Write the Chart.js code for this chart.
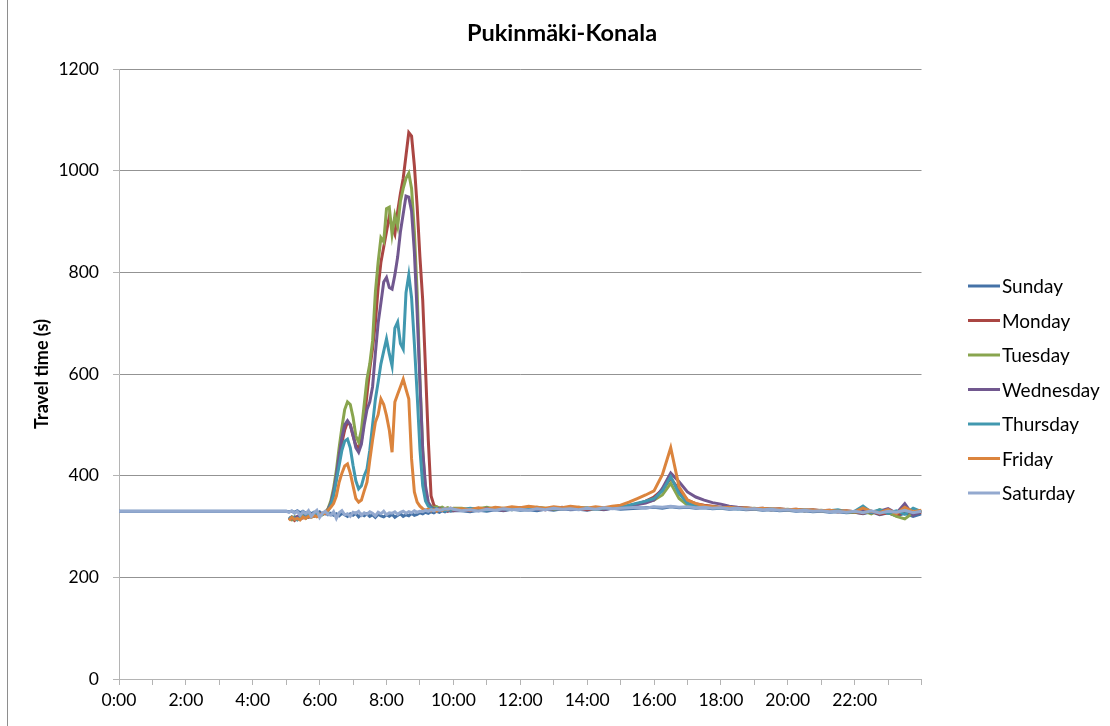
<!DOCTYPE html>
<html>
<head>
<meta charset="utf-8">
<title>Pukinmäki-Konala</title>
<script src="https://cdn.jsdelivr.net/npm/chart.js@4.4.1/dist/chart.umd.min.js"></script>
<style>
  html, body { margin: 0; padding: 0; background: #fff; }
  #wrap { width: 1110px; height: 726px; position: relative; }
</style>
</head>
<body>
<div id="wrap"><canvas id="chart"></canvas></div>
<script>

const chartTitle = 'Pukinmäki-Konala';
const yTitle = 'Travel time (s)';
const dayNames = ['Sunday', 'Monday', 'Tuesday', 'Wednesday', 'Thursday', 'Friday', 'Saturday'];
const dayColors = ['#4572A7', '#AA4643', '#89A54E', '#71588F', '#4198AF', '#DB843D', '#93A9CF'];
const tickLabels = ['0:00', '2:00', '4:00', '6:00', '8:00', '10:00', '12:00', '14:00', '16:00', '18:00', '20:00', '22:00'];

// sample times in minutes: 0:00, then every 5 min 5:00-10:00, then every 15 min 10:15-24:00
const minutes = [0];
for (let m = 300; m <= 600; m += 5) minutes.push(m);
for (let m = 615; m <= 1440; m += 15) minutes.push(m);

const sunday = [
  330,
  330, 329, 330, 328, 331, 327, 330, 326, 329, 325, 328, 326,   // 5:00
  329, 324, 327, 323, 326, 322, 325, 321, 326, 323, 320, 325,   // 6:00
  322, 326, 319, 324, 321, 325, 320, 323, 318, 324, 321, 319,   // 7:00
  323, 320, 324, 318, 322, 325, 320, 323, 321, 326, 322, 324,   // 8:00
  327, 325, 328, 326, 329, 327, 330, 328, 331, 329, 332, 330,   // 9:00
  331,
  331, 329, 332, 330, 333, 331, 334, 332, 333, 331, 334, 332,   // 10:15-13:00
  335, 333, 334, 332, 335, 333, 336, 334, 335, 336, 337, 338,   // 13:15-16:00
  336, 339, 337, 338, 336, 337, 335, 336, 334, 335, 333, 334,   // 16:15-19:00
  332, 333, 331, 332, 330, 331, 329, 330, 328, 329, 327, 328,   // 19:15-22:00
  325, 329, 323, 327, 321, 326, 320, 325                        // 22:15-24:00
];

const monday = [
  null,
  null, 314, 318, 312, 316, 320, 317, 321, 319, 323, 320, 324,
  322, 326, 328, 333, 345, 365, 395, 430, 465, 490, 505, 500,
  478, 460, 455, 470, 510, 560, 610, 650, 700, 770, 820, 850,
  880, 910, 890, 875, 920, 955, 985, 1030, 1075, 1068, 1010, 930,
  830, 745, 610, 470, 360, 342, 338, 335, 332, 334, 330, 333,
  331,
  334, 331, 336, 333, 335, 332, 336, 334, 337, 335, 333, 336,
  334, 337, 335, 333, 336, 334, 337, 338, 340, 344, 350, 358,
  372, 395, 372, 352, 345, 342, 340, 338, 336, 337, 335, 334,
  335, 333, 334, 332, 333, 331, 332, 330, 331, 329, 330, 328,
  326, 330, 324, 327, 322, 329, 325, 328
];

const tuesday = [
  null,
  null, 316, 313, 319, 315, 318, 322, 316, 320, 318, 324, 321,
  325, 323, 327, 335, 350, 375, 410, 455, 495, 530, 545, 540,
  515, 478, 466, 490, 540, 590, 620, 665, 760, 820, 868, 860,
  925, 928, 875, 912, 890, 940, 965, 985, 995, 965, 880, 760,
  590, 450, 368, 345, 340, 337, 339, 336, 338, 335, 337, 334,
  336,
  336, 333, 335, 338, 334, 336, 333, 337, 335, 338, 336, 334,
  337, 335, 338, 336, 334, 337, 336, 339, 341, 345, 348, 352,
  362, 385, 355, 342, 340, 338, 339, 337, 338, 336, 335, 336,
  334, 335, 333, 334, 332, 333, 331, 332, 330, 331, 329, 328,
  331, 325, 333, 328, 320, 315, 327, 330
];

const wednesday = [
  null,
  null, 318, 315, 317, 320, 314, 319, 322, 318, 321, 323, 320,
  324, 326, 325, 333, 345, 368, 400, 440, 475, 500, 508, 500,
  480, 455, 446, 462, 500, 530, 545, 575, 640, 700, 740, 781,
  790, 770, 767, 795, 830, 880, 915, 950, 948, 920, 840, 720,
  584, 450, 380, 348, 338, 335, 333, 336, 332, 334, 331, 333,
  332,
  332, 335, 333, 336, 334, 332, 335, 337, 334, 336, 333, 335,
  338, 334, 336, 335, 337, 334, 336, 338, 340, 343, 346, 352,
  375, 405, 388, 368, 358, 352, 347, 344, 340, 338, 337, 335,
  336, 334, 335, 333, 334, 332, 333, 331, 332, 330, 331, 329,
  333, 327, 330, 335, 326, 345, 322, 331
];

const thursday = [
  null,
  null, 315, 319, 316, 313, 318, 321, 317, 322, 319, 321, 325,
  322, 324, 327, 330, 342, 360, 390, 420, 450, 468, 472, 455,
  420, 390, 374, 380, 400, 413, 450, 500, 550, 584, 620, 645,
  669, 640, 616, 690, 702, 660, 649, 760, 795, 750, 660, 560,
  452, 380, 350, 340, 336, 333, 335, 332, 334, 331, 333, 332,
  334,
  333, 336, 334, 332, 337, 335, 333, 336, 334, 337, 335, 336,
  334, 338, 335, 337, 334, 336, 338, 337, 342, 346, 350, 355,
  370, 398, 365, 346, 340, 338, 337, 336, 338, 335, 336, 334,
  335, 333, 334, 332, 333, 331, 332, 330, 331, 333, 329, 330,
  340, 328, 333, 326, 331, 324, 336, 329
];

const friday = [
  null,
  null, 312, 318, 314, 316, 313, 319, 316, 320, 318, 322, 319,
  323, 325, 326, 332, 338, 345, 360, 387, 405, 419, 423, 405,
  380, 355, 348, 352, 370, 387, 430, 470, 505, 520, 551, 540,
  518, 490, 446, 545, 560, 575, 590, 570, 551, 433, 368, 348,
  340, 335, 332, 334, 331, 333, 330, 334, 332, 335, 333, 336,
  334,
  335, 333, 337, 334, 338, 336, 339, 337, 340, 338, 336, 339,
  337, 340, 338, 336, 339, 337, 340, 342, 348, 355, 362, 370,
  402, 455, 378, 352, 345, 341, 339, 337, 338, 336, 337, 335,
  336, 334, 335, 333, 334, 332, 333, 331, 332, 330, 331, 329,
  336, 330, 327, 333, 325, 338, 329, 332
];

const saturday = [
  330,
  330, 328, 331, 326, 330, 322, 329, 325, 331, 320, 327, 332,
  318, 326, 330, 324, 322, 329, 316, 327, 331, 323, 325, 320,
  328, 326, 330, 322, 327, 324, 329, 326, 321, 328, 325, 330,
  323, 327, 326, 329, 324, 328, 330, 326, 329, 327, 331, 328,
  330, 329, 332, 330, 333, 331, 334, 332, 333, 335, 334, 336,
  334,
  331, 333, 330, 334, 332, 335, 333, 334, 332, 335, 333, 336,
  334, 335, 333, 336, 334, 337, 335, 336, 337, 338, 336, 339,
  338, 340, 338, 339, 337, 338, 336, 337, 335, 336, 334, 335,
  333, 334, 332, 333, 331, 332, 330, 331, 329, 330, 328, 330,
  327, 331, 326, 330, 328, 332, 327, 330
];

const allDays = [sunday, monday, tuesday, wednesday, thursday, friday, saturday];

const axisGrey = '#b4b4b4';
const gridGrey = '#939393';

// title, legend and the frame line on the left
const decor = {
  id: 'decor',
  beforeDraw(chart) {
    const ctx = chart.ctx;
    ctx.save();
    ctx.strokeStyle = '#8e8e8e';
    ctx.lineWidth = 1;
    ctx.beginPath();
    ctx.moveTo(7.5, 0);
    ctx.lineTo(7.5, chart.height);
    ctx.stroke();
    ctx.restore();
  },
  afterDraw(chart) {
    const ctx = chart.ctx;
    ctx.save();
    ctx.fillStyle = '#000';
    ctx.font = 'bold 23.5px Lato';
    ctx.textAlign = 'center';
    ctx.textBaseline = 'middle';
    ctx.fillText(chartTitle, 562, 33);

    ctx.font = '19px Lato';
    ctx.textAlign = 'left';
    chart.data.datasets.forEach((ds, i) => {
      const y = 286 + i * 34.5;
      ctx.strokeStyle = ds.borderColor;
      ctx.lineWidth = 3;
      ctx.beginPath();
      ctx.moveTo(968, y);
      ctx.lineTo(1000, y);
      ctx.stroke();
      ctx.fillText(ds.label, 1002, y + 1);
    });
    ctx.restore();
  }
};

new Chart(document.getElementById('chart'), {
  type: 'line',
  data: {
    datasets: allDays.map((vals, i) => ({
      label: dayNames[i],
      data: minutes.map((m, k) => ({ x: m, y: vals[k] })),
      borderColor: dayColors[i],
      backgroundColor: dayColors[i],
      borderWidth: 3,
      pointRadius: 0,
      tension: 0,
      fill: false,
      order: 6 - i
    }))
  },
  options: {
    responsive: true,
    maintainAspectRatio: false,
    animation: false,
    devicePixelRatio: 1,
    layout: { padding: { top: 69, right: 188.5, bottom: 0, left: 0 } },
    plugins: {
      legend: { display: false },
      title: { display: false },
      tooltip: { enabled: false }
    },
    scales: {
      x: {
        type: 'linear',
        min: 0,
        max: 1440,
        afterFit: s => { s.height = 47; },
        ticks: {
          stepSize: 60,
          autoSkip: false,
          maxRotation: 0,
          padding: 5,
          color: '#000',
          font: { family: 'Lato', size: 17.5 },
          callback: v => (v % 120 === 0 && v < 1440) ? tickLabels[v / 120] : ''
        },
        grid: { drawOnChartArea: false, drawTicks: true, tickLength: 6, color: axisGrey },
        border: { color: axisGrey }
      },
      y: {
        min: 0,
        max: 1200,
        afterFit: s => { s.width = 119; },
        ticks: {
          stepSize: 200,
          padding: 14,
          color: '#000',
          font: { family: 'Lato', size: 17.5 },
          callback: v => String(v)
        },
        grid: { color: gridGrey, tickLength: 6, tickColor: axisGrey },
        border: { color: axisGrey },
        title: {
          display: true,
          text: yTitle,
          color: '#000',
          font: { family: 'Lato', size: 18, weight: 'bold' },
          padding: { top: 31, bottom: 0 }
        }
      }
    }
  },
  plugins: [decor]
});
</script>
</body>
</html>
